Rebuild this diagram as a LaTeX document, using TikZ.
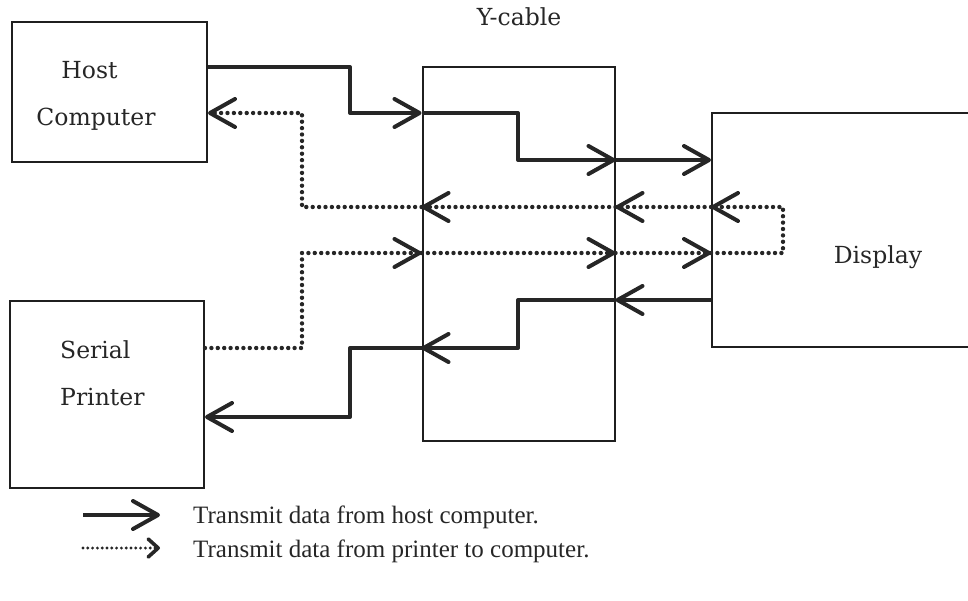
\documentclass[tikz,border=0pt]{standalone}
\usepackage{fontspec}
\setmainfont{Liberation Serif}
\newfontfamily\labelfont{DejaVu Serif}
\usetikzlibrary{arrows.meta}
\begin{document}
\begin{tikzpicture}[x=1pt,y=-1pt,
  box/.style={draw=black!88, line width=2pt, inner sep=0pt},
  sig/.style={draw=black!85, line width=4pt, line join=round},
  dots/.style={draw=black!85, line width=4.4pt, line cap=round, line join=round, dash pattern=on 0pt off 6.4pt},
  ldots/.style={draw=black!85, line width=3.2pt, line cap=round, dash pattern=on 0pt off 4.8pt},
  tip/.style={-{Straight Barb[length=25pt,width=28pt,line width=4pt,round]}},
  ltip/.style={-{Straight Barb[length=10pt,width=18pt,line width=3.6pt,round]}},
  lbl/.style={font=\labelfont\fontsize{23.5}{28}\selectfont, text=black!85, inner sep=0pt},
  leg/.style={font=\fontsize{25}{30}\selectfont, text=black!85, inner sep=0pt}
]
\useasboundingbox (0,0) rectangle (968,600);

% boxes
\node[box, minimum width=195pt, minimum height=140pt] (host) at (109.5,92) {};
\node[box, minimum width=194pt, minimum height=187pt] (printer) at (107,394.5) {};
\node[box, minimum width=192pt, minimum height=374pt] (ycable) at (518.5,254) {};
\node[box, minimum width=268pt, minimum height=234pt] (display) at (846,230) {};

% labels
\node[lbl, anchor=base] (hostA) at (89.5,78) {Host};
\node[lbl, anchor=base] (hostB) at (96,125) {Computer};
\node[lbl, anchor=base west] (prnA) at (60,358) {Serial};
\node[lbl, anchor=base west] (prnB) at (60,405) {Printer};
\node[lbl, anchor=base] (ylbl) at (519,25) {Y-cable};
\node[lbl, anchor=base] (dlbl) at (878,263) {Display};

% solid: host -> display
\draw[sig,tip] (host.east |- 0,67) -- (350,67) |- (ycable.west |- 0,113);
\draw[sig,tip] (ycable.west |- 0,113) -- (518,113) |- (ycable.east |- 0,160);
\draw[sig,tip] (ycable.east |- 0,160) -- (display.west |- 0,160);

% solid: display -> printer
\draw[sig,tip] (display.west |- 0,300) -- (ycable.east |- 0,300);
\draw[sig,tip] (ycable.east |- 0,300) -- (518,300) |- (ycable.west |- 0,348);
\draw[sig,tip] (ycable.west |- 0,348) -- (350,348) |- (printer.east |- 0,417);

% dotted: printer -> display loop -> host
\draw[dots,tip] (printer.east |- 0,348) -- (302,348) |- (ycable.west |- 0,253);
\draw[dots,tip] (ycable.west |- 0,253) -- (ycable.east |- 0,253);
\draw[dots,tip] (ycable.east |- 0,253) -- (display.west |- 0,253);
\draw[dots,tip] (display.west |- 0,253) -- (783,253) -- (783,207) -- (display.west |- 0,207);
\draw[dots,tip] (display.west |- 0,207) -- (ycable.east |- 0,207);
\draw[dots,tip] (ycable.east |- 0,207) -- (ycable.west |- 0,207);
\draw[dots,tip] (ycable.west |- 0,207) -- (302,207) |- (host.east |- 0,113);

% legend
\coordinate (l1a) at (83,515);
\coordinate (l1b) at (160,515);
\coordinate (l2a) at (83,548);
\coordinate (l2b) at (160,548);
\draw[sig,tip] (l1a) -- (l1b);
\draw[ldots,ltip] (l2a) -- (l2b);
\node[leg, anchor=base west] (leg1) at (193,523) {Transmit data from host computer.};
\node[leg, anchor=base west] (leg2) at (193,557) {Transmit data from printer to computer.};
\end{tikzpicture}
\end{document}
